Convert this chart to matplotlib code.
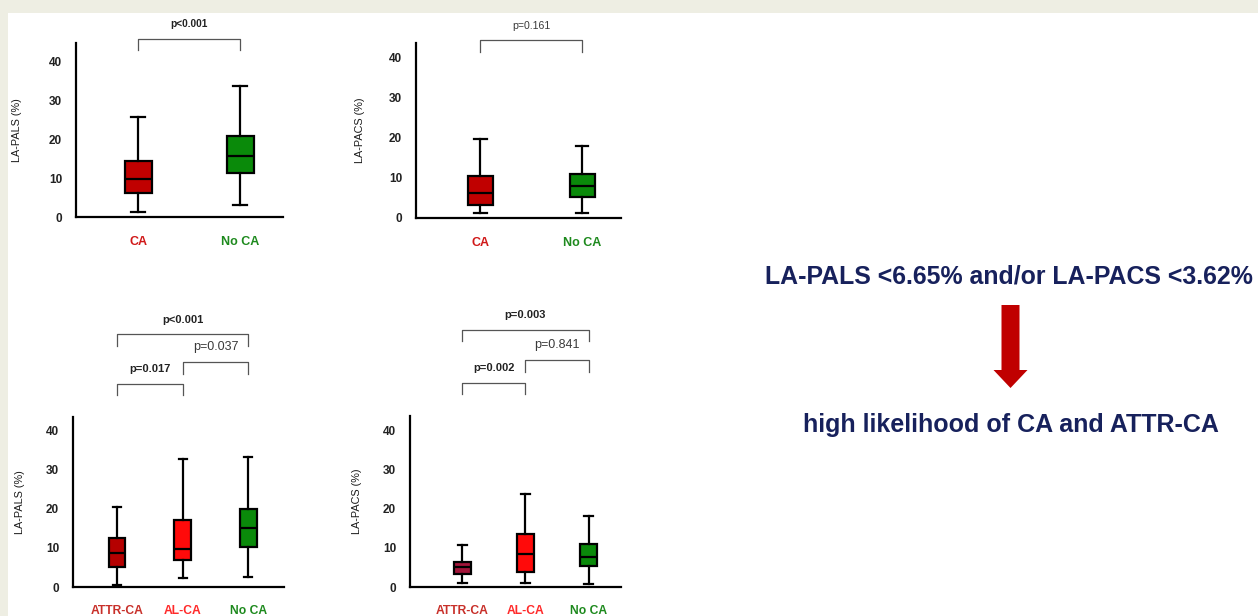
import matplotlib
matplotlib.use("Agg")
import matplotlib.pyplot as plt
from matplotlib.patches import FancyArrow, Rectangle

plt.rcParams['font.family'] = ['Liberation Sans', 'DejaVu Sans']

W, H = 1258, 616

# box statistics: (whislo, q1, med, q3, whishi)
pals_groups = ["CA", "No CA"]
pals_stats = [(1.4, 6.3, 9.9, 14.4, 25.8), (3.0, 11.3, 15.6, 20.9, 33.8)]
pacs_groups = ["CA", "No CA"]
pacs_stats = [(1.3, 3.2, 6.2, 10.5, 19.8), (1.3, 5.2, 8.0, 10.9, 18.0)]
pals3_groups = ["ATTR-CA", "AL-CA", "No CA"]
pals3_stats = [(0.4, 5.2, 8.8, 12.5, 20.5), (2.3, 6.9, 9.8, 17.1, 32.6),
               (2.5, 10.1, 15.0, 19.9, 33.1)]
pacs3_groups = ["ATTR-CA", "AL-CA", "No CA"]
pacs3_stats = [(0.9, 3.3, 5.2, 6.5, 10.8), (1.0, 3.8, 8.5, 13.6, 23.8),
               (0.7, 5.3, 7.6, 10.9, 18.2)]

# comparisons: (group i, group j, bracket height, label, bold)
pals_cmp = [(1, 2, 45.9, "p<0.001", True)]
pacs_cmp = [(1, 2, 44.3, "p=0.161", False)]
pals3_cmp = [(1, 3, 64.5, "p<0.001", True), (2, 3, 57.4, "p=0.037", False),
             (1, 2, 51.9, "p=0.017", True)]
pacs3_cmp = [(1, 3, 65.6, "p=0.003", True), (2, 3, 57.8, "p=0.841", False),
             (1, 2, 52.1, "p=0.002", True)]

fill_colors = {"CA": "#C00000", "No CA": "#0A8A0A", "AL-CA": "#FF0A0A"}
label_colors = {"CA": "#D01818", "No CA": "#1E8A1E", "ATTR-CA": "#C8302A",
                "AL-CA": "#FF2A2A"}

fig = plt.figure(figsize=(W / 100, H / 100), dpi=100)
fig.patch.set_facecolor("white")

# beige frame strips
bg = fig.add_axes([0, 0, 1, 1])
bg.set_xlim(0, W)
bg.set_ylim(H, 0)
bg.axis("off")
bg.add_patch(Rectangle((0, 0), W, 13, color="#EEEEE3", lw=0))
bg.add_patch(Rectangle((0, 0), 8, H, color="#EEEEE3", lw=0))


def panel(box_px, xlim, ylim, groups, stats, attr_color, ylabel, cmps,
          width, label_y, fs_p, fs_lab, lpad):
    left, right, top, bottom = box_px
    ax = fig.add_axes([left / W, 1 - bottom / H, (right - left) / W,
                       (bottom - top) / H])
    ax.patch.set_alpha(0)
    bxp_stats = []
    for g, s in zip(groups, stats):
        bxp_stats.append(dict(whislo=s[0], q1=s[1], med=s[2], q3=s[3],
                              whishi=s[4], fliers=[], label=g))
    pos = list(range(1, len(groups) + 1))
    art = ax.bxp(bxp_stats, positions=pos, widths=width, patch_artist=True,
                 showfliers=False,
                 boxprops=dict(linewidth=1.6, edgecolor="black"),
                 medianprops=dict(color="black", linewidth=1.6),
                 whiskerprops=dict(linewidth=1.6),
                 capprops=dict(linewidth=1.6))
    for patch, g in zip(art["boxes"], groups):
        patch.set_facecolor(attr_color if g == "ATTR-CA" else fill_colors[g])
    ax.set_xlim(*xlim)
    ax.set_ylim(*ylim)
    for sp in ["top", "right"]:
        ax.spines[sp].set_visible(False)
    for sp in ["left", "bottom"]:
        ax.spines[sp].set_linewidth(1.6)
    ax.set_yticks([0, 10, 20, 30, 40])
    ax.tick_params(axis="y", length=0, pad=10, labelsize=8.5,
                   labelcolor="#222222")
    for t in ax.get_yticklabels():
        t.set_fontweight("bold")
    ax.set_xticks([])
    ax.set_ylabel(ylabel, fontsize=7.8, color="#1A1A1A", labelpad=lpad)
    for p, g in zip(pos, groups):
        ax.text(p, label_y, g, ha="center", va="center", fontsize=fs_lab,
                fontweight="bold", color=label_colors[g],
                transform=ax.get_xaxis_transform())
    for i, j, y, txt, bold in cmps:
        ax.plot([i, i, j, j], [y - 2.9, y, y, y - 2.9], color="#555555",
                lw=0.9, clip_on=False)
        ax.text((i + j) / 2, y + 2.4, txt, ha="center", va="bottom",
                fontsize=fs_p if bold else fs_p + 1,
                fontweight="bold" if bold else "normal",
                color="#222222" if bold else "#3A3A3A")
    return ax


panel((76, 283, 43, 217), (0.392, 2.42), (0, 44.8), pals_groups, pals_stats,
      None, "LA-PALS (%)", pals_cmp, 0.265, -0.145, 7.3, 9, 19)
panel((416, 621, 43, 218), (0.368, 2.383), (0, 43.6), pacs_groups, pacs_stats,
      None, "LA-PACS (%)", pacs_cmp, 6.6 * 0 + 0.246, -0.145, 6.6, 9, 17)
panel((73, 284, 417, 587), (0.331, 3.543), (0, 43.4), pals3_groups,
      pals3_stats, "#B50000", "LA-PALS (%)", pals3_cmp, 0.25, -0.14, 8, 8.7,
      15)
panel((410, 621, 416, 587), (0.17, 3.514), (0, 43.6), pacs3_groups,
      pacs3_stats, "#A3153A", "LA-PACS (%)", pacs3_cmp, 0.27, -0.14, 8, 8.7,
      15)

# right-hand message
navy = "#17215C"
bg.text(1009, 277, "LA-PALS <6.65% and/or LA-PACS <3.62%", ha="center",
        va="center", fontsize=17.9, fontweight="bold", color=navy)
bg.add_patch(FancyArrow(1010.5, 305, 0, 83, width=18, head_width=34,
                        head_length=18, length_includes_head=True,
                        color="#C00000", lw=0))
bg.text(1011, 425, "high likelihood of CA and ATTR-CA", ha="center",
        va="center", fontsize=18, fontweight="bold", color=navy)

fig.savefig("out.png", dpi=100)
